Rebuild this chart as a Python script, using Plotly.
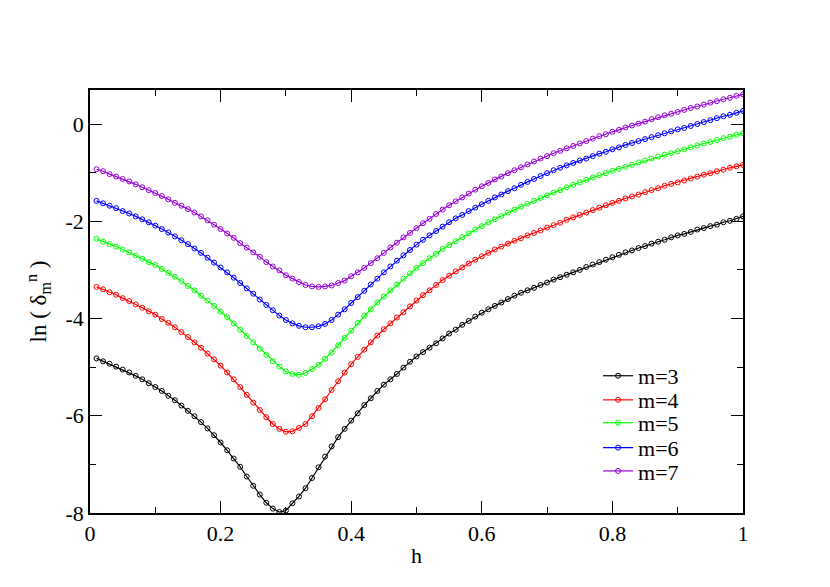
import plotly.graph_objects as go

# %%
h = [0.01, 0.02, 0.03, 0.04, 0.05, 0.06, 0.07, 0.08, 0.09, 0.10,
     0.11, 0.12, 0.13, 0.14, 0.15, 0.16, 0.17, 0.18, 0.19, 0.20,
     0.21, 0.22, 0.23, 0.24, 0.25, 0.26, 0.27, 0.28, 0.29, 0.30,
     0.31, 0.32, 0.33, 0.34, 0.35, 0.36, 0.37, 0.38, 0.39, 0.40,
     0.41, 0.42, 0.43, 0.44, 0.45, 0.46, 0.47, 0.48, 0.49, 0.50,
     0.51, 0.52, 0.53, 0.54, 0.55, 0.56, 0.57, 0.58, 0.59, 0.60,
     0.61, 0.62, 0.63, 0.64, 0.65, 0.66, 0.67, 0.68, 0.69, 0.70,
     0.71, 0.72, 0.73, 0.74, 0.75, 0.76, 0.77, 0.78, 0.79, 0.80,
     0.81, 0.82, 0.83, 0.84, 0.85, 0.86, 0.87, 0.88, 0.89, 0.90,
     0.91, 0.92, 0.93, 0.94, 0.95, 0.96, 0.97, 0.98, 0.99, 1.00]

m3 = [-4.82, -4.88, -4.93, -4.99, -5.05, -5.11, -5.18, -5.25, -5.33, -5.41,
      -5.49, -5.59, -5.68, -5.79, -5.90, -6.01, -6.13, -6.26, -6.40, -6.55,
      -6.71, -6.88, -7.05, -7.25, -7.44, -7.62, -7.79, -7.91, -7.98, -7.95,
      -7.80, -7.66, -7.49, -7.28, -7.06, -6.84, -6.63, -6.44, -6.27, -6.10,
      -5.95, -5.78, -5.64, -5.49, -5.36, -5.25, -5.14, -5.01, -4.89, -4.78,
      -4.69, -4.60, -4.51, -4.41, -4.31, -4.23, -4.13, -4.05, -3.96, -3.88,
      -3.81, -3.74, -3.67, -3.60, -3.53, -3.47, -3.42, -3.37, -3.31, -3.26,
      -3.20, -3.15, -3.10, -3.05, -3.00, -2.94, -2.89, -2.84, -2.79, -2.74,
      -2.69, -2.64, -2.60, -2.55, -2.51, -2.46, -2.42, -2.38, -2.33, -2.29,
      -2.26, -2.22, -2.17, -2.14, -2.10, -2.07, -2.02, -1.99, -1.95, -1.90]

m4 = [-3.35, -3.40, -3.46, -3.51, -3.58, -3.64, -3.71, -3.78, -3.85, -3.92,
      -4.01, -4.09, -4.18, -4.28, -4.38, -4.49, -4.60, -4.72, -4.84, -4.97,
      -5.11, -5.25, -5.41, -5.57, -5.73, -5.88, -6.03, -6.17, -6.27, -6.33,
      -6.32, -6.25, -6.17, -6.01, -5.84, -5.66, -5.47, -5.29, -5.11, -4.94,
      -4.79, -4.64, -4.49, -4.35, -4.22, -4.10, -3.98, -3.87, -3.75, -3.63,
      -3.52, -3.42, -3.31, -3.21, -3.12, -3.03, -2.95, -2.87, -2.79, -2.72,
      -2.65, -2.58, -2.52, -2.46, -2.40, -2.35, -2.29, -2.24, -2.19, -2.13,
      -2.08, -2.03, -1.97, -1.92, -1.87, -1.82, -1.77, -1.72, -1.67, -1.62,
      -1.58, -1.53, -1.49, -1.45, -1.40, -1.36, -1.32, -1.27, -1.23, -1.20,
      -1.16, -1.12, -1.08, -1.04, -1.01, -0.97, -0.94, -0.90, -0.87, -0.84]

m5 = [-2.36, -2.42, -2.47, -2.52, -2.58, -2.64, -2.70, -2.77, -2.84, -2.90,
      -2.98, -3.06, -3.14, -3.23, -3.33, -3.42, -3.53, -3.63, -3.74, -3.86,
      -3.97, -4.10, -4.23, -4.36, -4.49, -4.62, -4.75, -4.88, -4.99, -5.09,
      -5.14, -5.16, -5.12, -5.04, -4.95, -4.83, -4.70, -4.55, -4.40, -4.25,
      -4.09, -3.94, -3.81, -3.67, -3.55, -3.42, -3.30, -3.18, -3.07, -2.96,
      -2.86, -2.76, -2.67, -2.57, -2.49, -2.41, -2.33, -2.25, -2.17, -2.10,
      -2.02, -1.96, -1.89, -1.82, -1.76, -1.70, -1.64, -1.58, -1.52, -1.47,
      -1.41, -1.36, -1.30, -1.25, -1.20, -1.15, -1.10, -1.05, -1.01, -0.96,
      -0.92, -0.88, -0.84, -0.79, -0.75, -0.71, -0.67, -0.63, -0.60, -0.56,
      -0.52, -0.48, -0.44, -0.40, -0.37, -0.33, -0.29, -0.26, -0.22, -0.19]

m6 = [-1.58, -1.63, -1.68, -1.73, -1.79, -1.84, -1.90, -1.96, -2.02, -2.09,
      -2.16, -2.23, -2.31, -2.39, -2.47, -2.56, -2.65, -2.75, -2.85, -2.95,
      -3.05, -3.16, -3.27, -3.38, -3.49, -3.61, -3.72, -3.83, -3.94, -4.03,
      -4.10, -4.15, -4.18, -4.18, -4.16, -4.11, -4.03, -3.92, -3.81, -3.68,
      -3.56, -3.43, -3.30, -3.18, -3.05, -2.93, -2.81, -2.70, -2.59, -2.48,
      -2.38, -2.29, -2.20, -2.11, -2.02, -1.94, -1.87, -1.79, -1.72, -1.65,
      -1.58, -1.51, -1.45, -1.38, -1.32, -1.25, -1.19, -1.13, -1.07, -1.01,
      -0.95, -0.90, -0.85, -0.80, -0.75, -0.71, -0.66, -0.61, -0.57, -0.52,
      -0.48, -0.43, -0.39, -0.35, -0.31, -0.27, -0.23, -0.19, -0.15, -0.11,
      -0.08, -0.04, 0.00, 0.04, 0.08, 0.12, 0.16, 0.19, 0.23, 0.27]

m7 = [-0.93, -0.97, -1.03, -1.08, -1.13, -1.18, -1.24, -1.30, -1.36, -1.42,
      -1.48, -1.55, -1.62, -1.68, -1.75, -1.82, -1.90, -1.98, -2.07, -2.16,
      -2.25, -2.34, -2.45, -2.54, -2.64, -2.73, -2.84, -2.93, -3.01, -3.11,
      -3.18, -3.25, -3.31, -3.34, -3.35, -3.34, -3.32, -3.27, -3.22, -3.13,
      -3.05, -2.96, -2.86, -2.76, -2.65, -2.54, -2.44, -2.33, -2.24, -2.14,
      -2.04, -1.95, -1.85, -1.76, -1.67, -1.59, -1.51, -1.43, -1.35, -1.28,
      -1.21, -1.14, -1.08, -1.01, -0.95, -0.89, -0.83, -0.77, -0.71, -0.66,
      -0.60, -0.55, -0.50, -0.45, -0.40, -0.35, -0.30, -0.25, -0.21, -0.16,
      -0.12, -0.07, -0.03, 0.01, 0.05, 0.10, 0.14, 0.18, 0.21, 0.25,
      0.29, 0.33, 0.36, 0.40, 0.44, 0.47, 0.51, 0.54, 0.58, 0.61]

names = ["m=3", "m=4", "m=5", "m=6", "m=7"]
colors = ["black", "#ff0000", "#00ff00", "#0000ff", "rgb(148,0,211)"]

y_tick_vals = [-8, -6, -4, -2, 0]
y_tick_text = ["-8", "-6", "-4", "-2", "0"]

# %%
serif = "Liberation Serif"
legend_ids = ["legend", "legend2", "legend3", "legend4", "legend5"]
legend_y = [0.324, 0.267, 0.213, 0.154, 0.099]  # one small legend per row, rows 24px apart

fig = go.Figure()
for name, ys, col, lg in zip(names, [m3, m4, m5, m6, m7], colors, legend_ids):
    fig.add_trace(go.Scatter(x=h, y=ys, name=name, mode="lines+markers", legend=lg,
                             showlegend=True,
                             line=dict(color=col, width=1.2),
                             marker=dict(symbol="circle-open", size=5, color=col,
                                         line=dict(width=1, color=col))))

axis_common = dict(showline=True, linecolor="black", linewidth=1.5, mirror="allticks",
                   ticks="inside", ticklen=12, tickwidth=1, tickcolor="black",
                   showgrid=False, zeroline=False,
                   tickfont=dict(family=serif, size=22, color="black"))

fig.update_xaxes(range=[0, 1], dtick=0.2, tick0=0,
                 minor=dict(dtick=0.1, ticks="inside", ticklen=6, tickcolor="black", tickwidth=1),
                 title=dict(text="h", font=dict(family=serif, size=22, color="black"), standoff=2),
                 **axis_common)
fig.update_yaxes(range=[-8, 0.7], tickvals=y_tick_vals, ticktext=y_tick_text,
                 minor=dict(dtick=1, tick0=0, ticks="inside", ticklen=6, tickcolor="black", tickwidth=1),
                 title=dict(text="ln ( δ<sub>m</sub><sup>n</sup> )",
                            font=dict(family=serif, size=23, color="black"), standoff=12),
                 **axis_common)

# the page body has an 8px margin, so the figure is drawn 8px smaller
fig.update_layout(width=814, height=571, plot_bgcolor="white", paper_bgcolor="white",
                  margin=dict(l=82, r=79, t=82, b=66),
                  font=dict(family=serif), showlegend=True)
for lg, ly in zip(legend_ids, legend_y):
    fig.update_layout({lg: dict(x=0.778, y=ly, xanchor="left", yanchor="middle",
                                bgcolor="rgba(0,0,0,0)", borderwidth=0, visible=True,
                                font=dict(family=serif, size=22, color="black"))})

fig.write_html("out.html")
